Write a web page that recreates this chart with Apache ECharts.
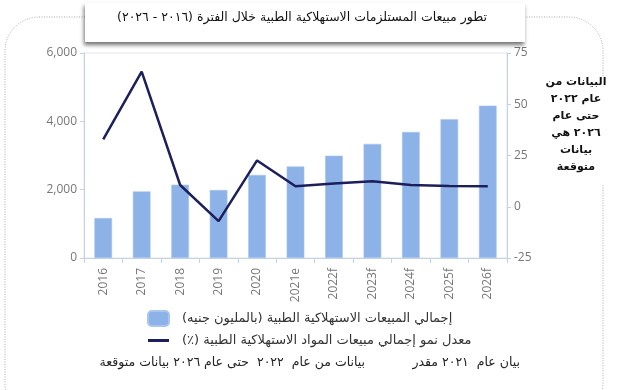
<!DOCTYPE html>
<html>
<head>
<meta charset="utf-8">
<script src="https://cdn.jsdelivr.net/npm/echarts@6/dist/echarts.min.js"></script>
<style>html,body{margin:0;padding:0;background:#fff}#c{width:640px;height:390px}</style>
</head>
<body>
<div id="c"></div>
<script>
var categories = ['2016','2017','2018','2019','2020','2021e','2022f','2023f','2024f','2025f','2026f'];
var salesValues = [1170, 1950, 2145, 1990, 2430, 2680, 2995, 3340, 3690, 4060, 4460];
var growthValues = [32.9, 65.9, 10.6, -7.0, 22.6, 10.0, 11.4, 12.4, 10.6, 10.1, 10.0];
var leftTicks = {min: 0, max: 6000, interval: 2000};
var rightTicks = {min: -25, max: 75, interval: 25};
var titleText = 'تطور مبيعات المستلزمات الاستهلاكية الطبية خلال الفترة (٢٠١٦ - ٢٠٢٦)';
var seriesNames = ['إجمالي المبيعات الاستهلاكية الطبية (بالمليون جنيه)', 'معدل نمو إجمالي مبيعات المواد الاستهلاكية الطبية (٪)'];
var noteLines = ['البيانات من', 'عام ٢٠٢٢', 'حتى عام', '٢٠٢٦ هي', 'بيانات', 'متوقعة'];
var footerRight = 'بيان عام  ٢٠٢١ مقدر';
var footerLeft = 'بيانات من عام  ٢٠٢٢  حتى عام ٢٠٢٦ بيانات متوقعة';

function rtl(s){ return '\u202B' + s + '\u202C'; }
var AR = '"DejaVu Sans", sans-serif';
var LAT = '"Open Sans", sans-serif';

var chart = echarts.init(document.getElementById('c'));
var axisColor = '#c3d3e6';
chart.setOption({
  animation: false,
  grid: {left: 84, right: 133, top: 53, bottom: 132, show: true, borderColor: '#e2e5ea', borderWidth: 1},
  legend: {
    orient: 'vertical', left: 142, top: 305, itemWidth: 21, itemHeight: 15, itemGap: 7,
    formatter: function(n){ return rtl(n); },
    textStyle: {fontFamily: AR, fontSize: 13, color: '#333', padding: [0,0,0,8]},
    data: [
      {name: seriesNames[0], icon: 'roundRect'},
      {name: seriesNames[1], icon: 'path://M0,0H21V3H0Z', itemStyle: {color: '#1c1f5c'}}
    ]
  },
  xAxis: {
    type: 'category', data: categories, boundaryGap: true,
    axisLine: {lineStyle: {color: axisColor}},
    axisTick: {show: true, length: 5, lineStyle: {color: axisColor}},
    axisLabel: {rotate: 90, color: '#777', fontFamily: LAT, fontSize: 12, margin: 10, interval: 0}
  },
  yAxis: [
    {type: 'value', min: leftTicks.min, max: leftTicks.max, interval: leftTicks.interval,
     axisLine: {show: true, lineStyle: {color: axisColor}},
     axisTick: {show: true, length: 4, lineStyle: {color: axisColor}},
     splitLine: {show: false},
     axisLabel: {color: '#777', fontFamily: LAT, fontSize: 12, margin: 7,
       formatter: function(v){ return v.toLocaleString('en-US'); }}},
    {type: 'value', min: rightTicks.min, max: rightTicks.max, interval: rightTicks.interval,
     axisLine: {show: true, lineStyle: {color: axisColor}},
     axisTick: {show: true, length: 4, lineStyle: {color: axisColor}},
     splitLine: {show: false},
     axisLabel: {color: '#777', fontFamily: LAT, fontSize: 12, margin: 7}}
  ],
  series: [
    {name: seriesNames[0], type: 'bar', data: salesValues, yAxisIndex: 0, barWidth: '46%',
     itemStyle: {color: '#8cb2e8', borderColor: '#a9c6ef', borderWidth: 0.6}},
    {name: seriesNames[1], type: 'line', data: growthValues, yAxisIndex: 1, symbol: 'none',
     lineStyle: {color: '#1c1f5c', width: 2.5}, itemStyle: {color: '#1c1f5c'}, z: 5}
  ],
  graphic: [
    {type: 'rect', silent: true, z: -1, shape: {x: 5, y: 17, width: 598, height: 400, r: 34},
     style: {fill: 'none', stroke: '#aaa', lineWidth: 1, lineDash: [1, 1.5]}},
    {type: 'rect', silent: true, z: 10, shape: {x: 85, y: 3, width: 440, height: 39},
     style: {fill: '#fff', shadowBlur: 4, shadowOffsetX: -1, shadowOffsetY: 3, shadowColor: 'rgba(0,0,0,0.55)'}},
    {type: 'text', silent: true, z: 11, x: 302, y: 18,
     style: {text: rtl(titleText), font: '12.5px ' + AR, fill: '#111', align: 'center', verticalAlign: 'middle'}},
    {type: 'rect', silent: true, z: 10, shape: {x: 545, y: 76, width: 70, height: 108},
     style: {fill: '#fff'}},
    {type: 'text', silent: true, z: 11, x: 576, y: 125,
     style: {text: noteLines.map(rtl).join('\n'), font: 'bold 11px ' + AR, fill: '#111', align: 'center', verticalAlign: 'middle', lineHeight: 17}},
    {type: 'text', silent: true, z: 11, x: 520, y: 363,
     style: {text: rtl(footerRight), font: '12.5px ' + AR, fill: '#222', align: 'right', verticalAlign: 'middle'}},
    {type: 'text', silent: true, z: 11, x: 365, y: 363,
     style: {text: rtl(footerLeft), font: '12.5px ' + AR, fill: '#222', align: 'right', verticalAlign: 'middle'}}
  ]
});
</script>
</body>
</html>
